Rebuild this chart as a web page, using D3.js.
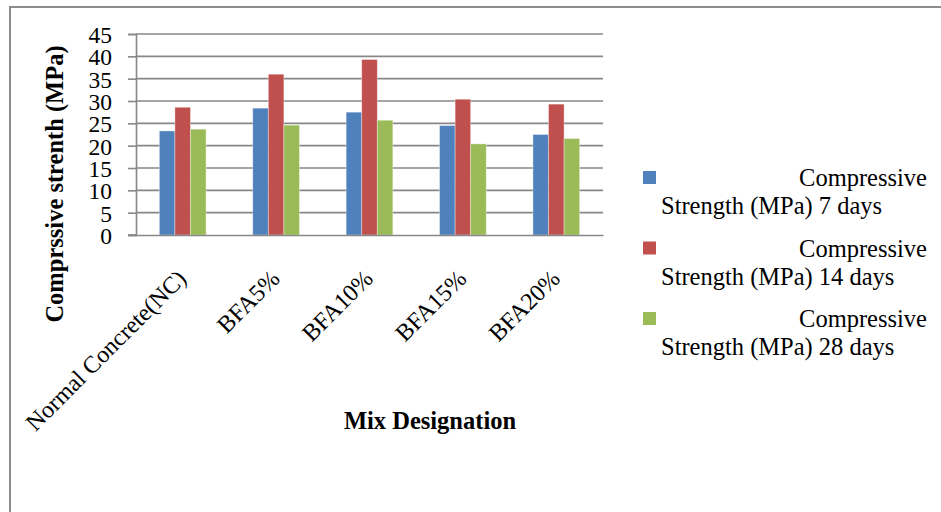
<!DOCTYPE html>
<html>
<head>
<meta charset="utf-8">
<script src="https://cdn.jsdelivr.net/npm/d3@7/dist/d3.min.js"></script>
<style>
  html, body { margin: 0; padding: 0; background: #fff; }
  svg { display: block; }
  text { font-family: "Liberation Serif", "Times New Roman", serif; fill: #000; }
</style>
</head>
<body>
<svg id="chart" width="941" height="512"></svg>
<script>
// ---- data ----
const categories = ["Normal Concrete(NC)", "BFA5%", "BFA10%", "BFA15%", "BFA20%"];
const seriesNames = [
  ["Compressive", "Strength (MPa) 7 days"],
  ["Compressive", "Strength (MPa) 14 days"],
  ["Compressive", "Strength (MPa) 28 days"]
];
const strength7 = [23.3, 28.4, 27.5, 24.5, 22.5];
const strength14 = [28.6, 36.0, 39.3, 30.4, 29.3];
const strength28 = [23.7, 24.6, 25.7, 20.4, 21.6];
const seriesValues = [strength7, strength14, strength28];
const colors = ["#4F81BD", "#C0504D", "#9BBB59"];
const yTicks = [0, 5, 10, 15, 20, 25, 30, 35, 40, 45];
const yTitle = "Comprssive strenth (MPa)";
const xTitle = "Mix Designation";

// ---- layout ----
const svg = d3.select("#chart");
const plot = { left: 136, right: 603, top: 34, bottom: 235 };

// outer frame
svg.append("line").attr("x1", 9).attr("x2", 941).attr("y1", 7).attr("y2", 7)
  .attr("stroke", "#8c8c8c").attr("stroke-width", 2);
svg.append("line").attr("x1", 10).attr("x2", 10).attr("y1", 6).attr("y2", 512)
  .attr("stroke", "#8c8c8c").attr("stroke-width", 2);

const x = d3.scaleBand().domain(categories).range([plot.left, plot.right]).padding(0);
const groupW = x.bandwidth() / 2;
const xs = d3.scaleBand().domain(d3.range(seriesValues.length)).range([0, groupW]).padding(0);
const y = d3.scaleLinear().domain([0, 45]).range([plot.bottom, plot.top]);

// gridlines
svg.append("g").selectAll("line").data(yTicks.filter(t => t > 0)).join("line")
  .attr("x1", plot.left).attr("x2", plot.right)
  .attr("y1", d => y(d)).attr("y2", d => y(d))
  .attr("stroke", "#878787").attr("stroke-width", 1.6);

// bars
const groups = svg.append("g").selectAll("g").data(categories).join("g")
  .attr("transform", c => `translate(${x(c) + (x.bandwidth() - groupW) / 2},0)`);
groups.selectAll("rect")
  .data((c, i) => seriesValues.map((vals, s) => ({ s, v: vals[i] })))
  .join("rect")
  .attr("x", d => xs(d.s))
  .attr("width", xs.bandwidth())
  .attr("y", d => y(d.v))
  .attr("height", d => y(0) - y(d.v))
  .attr("fill", d => colors[d.s])
  .attr("stroke", "rgba(255,255,255,0.45)")
  .attr("stroke-width", 0.8);

// y axis
const yAxis = d3.axisLeft(y).tickValues(yTicks).tickSize(8).tickPadding(16).tickFormat(d3.format("d"));
const gy = svg.append("g").attr("transform", `translate(${plot.left},0)`).call(yAxis);
gy.select(".domain").attr("stroke", "#878787").attr("stroke-width", 1.6);
gy.selectAll(".tick line").attr("stroke", "#878787").attr("stroke-width", 1.6);
gy.selectAll(".tick text")
  .attr("font-family", "Liberation Serif, Times New Roman, serif")
  .attr("font-size", 23.5).attr("fill", "#000").attr("x", -24).attr("dy", "0.36em");

// x axis baseline
const xAxis = d3.axisBottom(x).tickSize(0).tickFormat("");
const gx = svg.append("g").attr("transform", `translate(0,${plot.bottom})`).call(xAxis);
gx.select(".domain").attr("stroke", "#878787").attr("stroke-width", 1.6);
gx.selectAll(".tick").remove();
svg.append("line").attr("x1", plot.left - 8).attr("x2", plot.left)
  .attr("y1", y(0)).attr("y2", y(0)).attr("stroke", "#878787").attr("stroke-width", 1.6);

// x category labels rotated
svg.append("g").selectAll("text").data(categories).join("text")
  .attr("text-anchor", "end")
  .attr("font-size", 24)
  .attr("transform", c => `translate(${x(c) + x.bandwidth() / 2 + 5},280) rotate(-45)`)
  .text(c => c);

// axis titles
svg.append("text")
  .attr("transform", `translate(63,184) rotate(-90)`)
  .attr("text-anchor", "middle")
  .attr("font-weight", "bold").attr("font-size", 24.5)
  .text(yTitle);
svg.append("text")
  .attr("x", 430).attr("y", 429)
  .attr("text-anchor", "middle")
  .attr("font-weight", "bold").attr("font-size", 24.5)
  .text(xTitle);

// legend
const legendTop = [171, 241.5, 312];
const lg = svg.append("g").selectAll("g").data(seriesNames).join("g")
  .attr("transform", (d, i) => `translate(0,${legendTop[i]})`);
lg.append("rect").attr("x", 643).attr("y", 0).attr("width", 13).attr("height", 13)
  .attr("fill", (d, i) => colors[i]);
lg.append("text").attr("x", 927).attr("y", 15).attr("text-anchor", "end")
  .attr("font-size", 24.5).text(d => d[0]);
lg.append("text").attr("x", 661).attr("y", 43).attr("text-anchor", "start")
  .attr("font-size", 24.5).text(d => d[1]);
</script>
</body>
</html>
